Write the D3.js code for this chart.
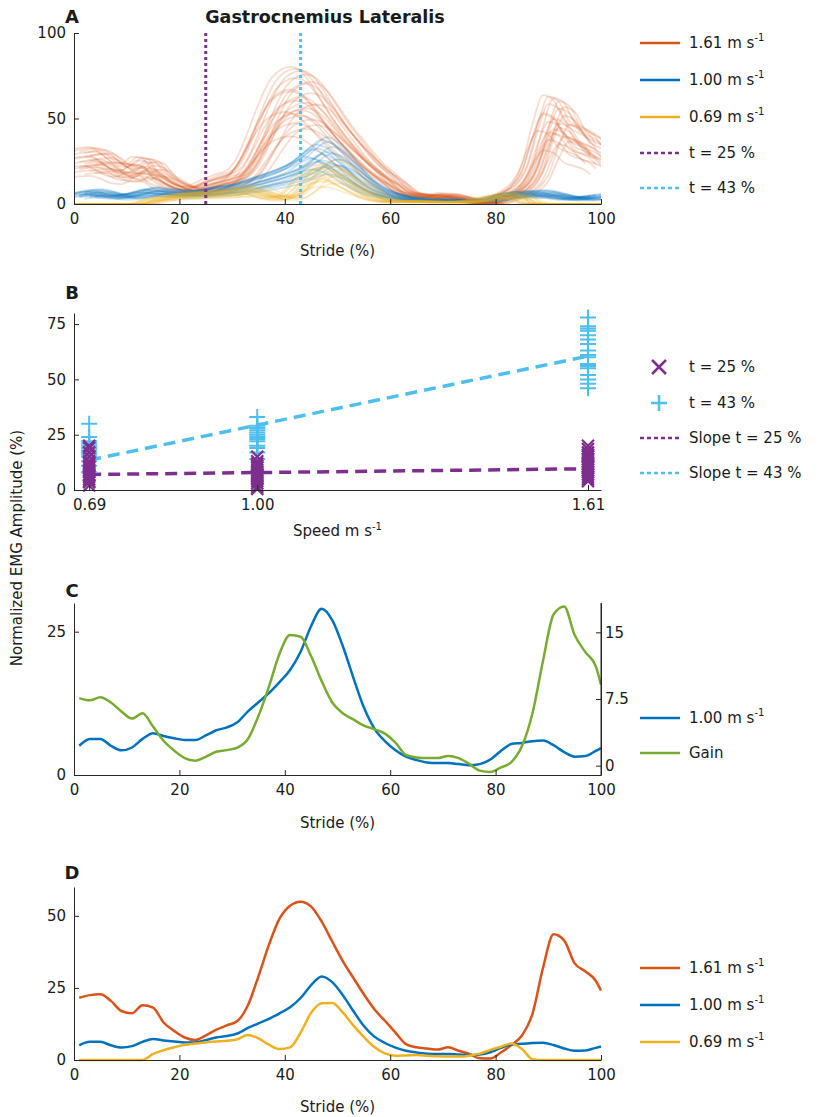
<!DOCTYPE html>
<html>
<head>
<meta charset="utf-8">
<script src="https://cdn.jsdelivr.net/npm/d3@7"></script>
<style>
    body { margin: 0; background: #fff; }
    svg text { font-family: "DejaVu Sans", sans-serif; fill: #1a1a1a; }
    .axis path, .axis line { stroke: #262626; stroke-width: 1; }
    .axis text { font-size: 15px; fill: #1a1a1a; font-family: "DejaVu Sans", sans-serif; }
</style>
</head>
<body>
<svg id="chart" width="819" height="1117"></svg>
<script>
// Stride grid (%) used by all mean curves
const stride = [1, 3, 5, 7, 9, 11, 13, 15, 17, 19, 21, 23, 25, 27, 29, 31, 33, 35, 37, 39, 41, 43, 45, 47, 49,
    51, 53, 55, 57, 59, 61, 63, 65, 67, 69, 71, 73, 75, 77, 79, 81, 83, 85, 87, 89, 91, 93, 95, 97, 99, 100];

// Mean EMG per speed (% of max)
const emg161 = [21.6, 22.5, 22.8, 20.5, 17.0, 16.2, 19.0, 18.2, 13.0, 10.1, 7.8, 6.9, 8.5, 10.5, 12.0, 13.5, 19.0,
    29.0, 40.0, 49.0, 53.5, 54.9, 53.2, 48.0, 41.1, 34.3, 28.5, 22.8, 17.6, 13.6, 9.5, 5.5, 4.4, 4.0, 3.6, 4.4,
    3.2, 2.1, 0.6, 0.5, 2.6, 5.2, 8.5, 16.0, 32.0, 43.6, 41.5, 33.5, 30.8, 27.5, 24.1];
const emg100 = [5.1, 6.3, 6.3, 5.1, 4.3, 4.8, 6.3, 7.3, 6.8, 6.4, 6.1, 6.1, 6.9, 7.8, 8.3, 9.2, 11.1, 12.7, 14.3,
    16.2, 18.3, 21.5, 26.0, 29.0, 27.0, 22.5, 17.0, 11.8, 8.1, 5.9, 4.3, 3.2, 2.6, 2.2, 2.1, 2.1, 1.9, 1.7, 1.9,
    2.7, 4.2, 5.4, 5.6, 5.9, 6.0, 5.2, 4.0, 3.2, 3.3, 4.2, 4.7];
const emg069 = [0, 0, 0, 0, 0, 0, 0, 2.1, 3.4, 4.4, 5.3, 5.7, 6.1, 6.4, 6.7, 7.2, 8.7, 7.5, 5.3, 3.8, 4.4, 9.5,
    16.4, 19.7, 19.8, 16.5, 12.0, 8.0, 4.5, 2.3, 1.5, 1.6, 1.7, 1.5, 1.3, 1.2, 1.2, 1.5, 2.2, 3.5, 4.6, 5.7, 3.8,
    0.3, 0, 0, 0, 0, 0, 0, 0];
const gain = [7.6, 7.35, 7.7, 7.1, 6.1, 5.3, 5.9, 4.4, 2.8, 1.7, 0.85, 0.56, 1.0, 1.56, 1.75, 2.04, 3.0, 5.6, 8.9,
    12.6, 14.7, 14.5, 12.3, 9.5, 7.1, 5.9, 5.2, 4.5, 4.1, 3.6, 2.6, 1.2, 0.93, 0.85, 0.85, 1.1, 0.85, 0.2, -0.56,
    -0.7, -0.2, 0.4, 2.2, 5.9, 11.8, 17.0, 17.9, 14.7, 12.8, 11.2, 9.1];

// Individual strides in panel A: amplitude factor and timing offset (%) per stride
const trialScale161 = [0.72, 0.8, 0.86, 0.9, 0.94, 0.98, 1.02, 1.06, 1.1, 1.14, 1.18, 1.22, 1.28, 1.34, 1.42, 1.46, 0.84, 0.96, 1.08, 1.2, 1.3, 1.0, 1.38, 1.44];
const trialShift161 = [-2, 1, -1, 2, 0, -3, 1, 3, -1, 0, 2, -2, 1, -1, 0, -2, 3, -1, 1, -2, 2, 0, 1, -1];
const trialScale100 = [0.6, 0.7, 0.75, 0.8, 0.85, 0.9, 0.95, 1.0, 1.05, 1.1, 1.15, 1.2, 1.3, 1.35, 0.78, 0.92, 1.02, 1.12, 0.88, 1.25];
const trialShift100 = [1, -2, 0, 2, -1, 3, -3, 0, 1, -2, 2, -1, 0, 1, 3, -2, 2, -1, 0, 1];
const trialScale069 = [0.5, 0.6, 0.7, 0.75, 0.8, 0.85, 0.9, 0.95, 1.0, 1.05, 1.1, 1.15, 1.2, 1.3, 0.65, 0.88, 1.02, 1.12];
const trialShift069 = [-1, 2, 0, -2, 1, 3, -3, 0, 2, -1, 1, -2, 0, 2, -1, 1, -2, 0];

const markerT25 = 25;
const markerT43 = 43;

// Panel B: amplitude at t = 25 % and t = 43 % per speed
const speeds = [0.69, 1.00, 1.61];
const ampT25 = [
    [2, 3.5, 4, 5, 6, 6.5, 7, 8, 9, 10, 11, 12, 13, 15, 17, 19, 20],
    [0.5, 1.5, 3, 4, 5, 5.5, 6.5, 7, 8, 9, 10, 11, 12, 13, 15],
    [4, 5, 6, 7, 8, 9, 10, 10.5, 11, 12, 13, 14, 15, 16, 17, 18.5, 20]
];
const ampT43 = [
    [8, 11, 13, 15, 16, 17, 18, 19, 20, 21, 22, 24, 30],
    [14, 17, 19, 20, 22, 23, 24, 25, 26, 27, 28, 29, 33],
    [46, 48, 50, 52, 55, 56, 57, 60, 61, 63, 66, 68, 70, 72, 73, 74, 78]
];
const fitSpeeds = [0.69, 1.61];
const fitT25 = [7.0, 9.6];
const fitT43 = [13.5, 60.5];

const strideTicks = [0, 20, 40, 60, 80, 100];

const col = {
    r161: '#D95319', b100: '#0072BD', y069: '#EDB120',
    purple: '#7E2F8E', cyan: '#4DBEEE', green: '#77AC30'
};

const svg = d3.select('#chart');
const left = 74, right = 601;

function axes(g, x, y, bottom, xTicks, yTicks, xFmt) {
    g.append('g').attr('class', 'axis')
        .attr('transform', `translate(0,${bottom})`)
        .call(d3.axisBottom(x).tickValues(xTicks).tickSizeInner(-5).tickSizeOuter(0).tickPadding(9).tickFormat(xFmt || d3.format('d')));
    g.append('g').attr('class', 'axis')
        .attr('transform', `translate(${left},0)`)
        .call(d3.axisLeft(y).tickValues(yTicks).tickSizeInner(-5).tickSizeOuter(0).tickPadding(8).tickFormat(d3.format('d')));
}

function panelLetter(letter, y) {
    svg.append('text').attr('x', 72).attr('y', y).attr('text-anchor', 'middle')
        .attr('font-size', 18).attr('font-weight', 'bold').text(letter);
}

function xLabel(txt, y, sup) {
    const t = svg.append('text').attr('x', (left + right) / 2).attr('y', y)
        .attr('text-anchor', 'middle').attr('font-size', 15).text(txt);
    if (sup) t.append('tspan').attr('font-size', 10).attr('dy', -6).text('-1');
}

// legend row helper
function legendText(y, txt, sup) {
    const t = svg.append('text').attr('x', 689).attr('y', y).attr('dy', '0.35em')
        .attr('font-size', 15).text(txt);
    if (sup) t.append('tspan').attr('font-size', 10).attr('dy', -7).text('-1');
}
function legendLine(y, color, dash) {
    svg.append('line').attr('x1', 640).attr('x2', 680).attr('y1', y).attr('y2', y)
        .attr('stroke', color).attr('stroke-width', 2.5)
        .attr('stroke-dasharray', dash || null);
}

const pts = vals => vals.map((v, i) => ({ x: stride[i], y: v }));

// ---------------- Panel A ----------------
const aTop = 33, aBottom = 204;
const xA = d3.scaleLinear().domain([0, 100]).range([left, right]);
const yA = d3.scaleLinear().domain([0, 100]).range([aBottom, aTop]);

svg.append('defs').append('clipPath').attr('id', 'clipA')
    .append('rect').attr('x', left).attr('y', aTop - 2).attr('width', right - left).attr('height', aBottom - aTop + 2);

const gA = svg.append('g');
const trialsA = gA.append('g').attr('clip-path', 'url(#clipA)');

function drawTrials(mean, scales, shifts, color) {
    scales.forEach((s, i) => {
        const line = d3.line()
            .x(d => xA(d.x + shifts[i]))
            .y(d => yA(d.y * s))
            .curve(d3.curveMonotoneX);
        trialsA.append('path').datum(pts(mean))
            .attr('fill', 'none').attr('stroke', color)
            .attr('stroke-width', 1.8).attr('stroke-opacity', 0.2)
            .attr('d', line);
    });
}
drawTrials(emg161, trialScale161, trialShift161, col.r161);
drawTrials(emg100, trialScale100, trialShift100, col.b100);
drawTrials(emg069, trialScale069, trialShift069, col.y069);

[[markerT25, col.purple], [markerT43, col.cyan]].forEach(([t, c]) => {
    gA.append('line').attr('x1', xA(t)).attr('x2', xA(t)).attr('y1', yA(100)).attr('y2', yA(0))
        .attr('stroke', c).attr('stroke-width', 3).attr('stroke-dasharray', '3,3');
});
axes(gA, xA, yA, aBottom, strideTicks, [0, 50, 100]);

panelLetter('A', 23);
svg.append('text').attr('x', 325).attr('y', 23).attr('text-anchor', 'middle')
    .attr('font-size', 17.5).attr('font-weight', 'bold').text('Gastrocnemius Lateralis');
xLabel('Stride (%)', 256);

legendLine(43, col.r161); legendText(43, '1.61 m s', true);
legendLine(80, col.b100); legendText(80, '1.00 m s', true);
legendLine(117, col.y069); legendText(117, '0.69 m s', true);
legendLine(153, col.purple, '4,3'); legendText(153, 't = 25 %');
legendLine(188, col.cyan, '4,3'); legendText(188, 't = 43 %');

// ---------------- Panel B ----------------
const bTop = 313, bBottom = 490;
const xB = d3.scaleLinear().domain([0.662, 1.634]).range([left, right]);
const yB = d3.scaleLinear().domain([0, 80]).range([bBottom, bTop]);
const gB = svg.append('g');

const fitLine = d3.line().x(d => xB(d.x)).y(d => yB(d.y));
[[fitT25, col.purple], [fitT43, col.cyan]].forEach(([vals, c]) => {
    gB.append('path').datum(fitSpeeds.map((s, i) => ({ x: s, y: vals[i] })))
        .attr('fill', 'none').attr('stroke', c).attr('stroke-width', 3.5)
        .attr('stroke-dasharray', '12,7').attr('d', fitLine);
});

function crossPath(cx, cy, r) {
    return `M${cx - r},${cy - r}L${cx + r},${cy + r}M${cx - r},${cy + r}L${cx + r},${cy - r}`;
}
function plusPath(cx, cy, r) {
    return `M${cx - r},${cy}L${cx + r},${cy}M${cx},${cy - r}L${cx},${cy + r}`;
}
speeds.forEach((s, i) => {
    ampT43[i].forEach(v => {
        gB.append('path').attr('d', plusPath(xB(s), yB(v), 8))
            .attr('stroke', col.cyan).attr('stroke-width', 2).attr('fill', 'none');
    });
    ampT25[i].forEach(v => {
        gB.append('path').attr('d', crossPath(xB(s), yB(v), 6))
            .attr('stroke', col.purple).attr('stroke-width', 2.2).attr('fill', 'none');
    });
});
axes(gB, xB, yB, bBottom, speeds, [0, 25, 50, 75], d3.format('.2f'));
panelLetter('B', 299);
xLabel('Speed m s', 536, true);

svg.append('path').attr('d', crossPath(659, 367, 7)).attr('stroke', col.purple).attr('stroke-width', 2.5).attr('fill', 'none');
legendText(367, 't = 25 %');
svg.append('path').attr('d', plusPath(659, 403, 8)).attr('stroke', col.cyan).attr('stroke-width', 2.5).attr('fill', 'none');
legendText(403, 't = 43 %');
legendLine(438, col.purple, '4,3'); legendText(438, 'Slope t = 25 %');
legendLine(473, col.cyan, '4,3'); legendText(473, 'Slope t = 43 %');

// shared y label
svg.append('text').attr('transform', `translate(22,548) rotate(-90)`)
    .attr('text-anchor', 'middle').attr('font-size', 15).text('Normalized EMG Amplitude (%)');

// ---------------- Panel C ----------------
const cTop = 603, cBottom = 775;
const xC = d3.scaleLinear().domain([0, 100]).range([left, right]);
const yC = d3.scaleLinear().domain([0, 30]).range([cBottom, cTop]);
const yC2 = d3.scaleLinear().domain([-1.05, 18.3]).range([cBottom, cTop]);
const gC = svg.append('g');

gC.append('path').datum(pts(emg100)).attr('fill', 'none').attr('stroke', col.b100).attr('stroke-width', 2.5)
    .attr('d', d3.line().x(d => xC(d.x)).y(d => yC(d.y)).curve(d3.curveMonotoneX));
gC.append('path').datum(pts(gain)).attr('fill', 'none').attr('stroke', col.green).attr('stroke-width', 2.5)
    .attr('d', d3.line().x(d => xC(d.x)).y(d => yC2(d.y)).curve(d3.curveMonotoneX));

axes(gC, xC, yC, cBottom, strideTicks, [0, 25]);
gC.append('g').attr('class', 'axis').attr('transform', `translate(${right},0)`)
    .call(d3.axisRight(yC2).tickValues([0, 7.5, 15]).tickSizeInner(-5).tickSizeOuter(0).tickPadding(4).tickFormat(d3.format('')));
gC.append('line').attr('class', 'axis').attr('x1', right).attr('x2', right).attr('y1', cTop).attr('y2', cBottom)
    .attr('stroke', '#262626');

panelLetter('C', 597);
xLabel('Stride (%)', 828);
legendLine(718, col.b100); legendText(718, '1.00 m s', true);
legendLine(753, col.green); legendText(753, 'Gain');

// ---------------- Panel D ----------------
const dTop = 887, dBottom = 1060;
const xD = d3.scaleLinear().domain([0, 100]).range([left, right]);
const yD = d3.scaleLinear().domain([0, 60]).range([dBottom, dTop]);
const gD = svg.append('g');
const lineD = d3.line().x(d => xD(d.x)).y(d => yD(d.y)).curve(d3.curveMonotoneX);
[[emg161, col.r161], [emg100, col.b100], [emg069, col.y069]].forEach(([vals, c]) => {
    gD.append('path').datum(pts(vals)).attr('fill', 'none').attr('stroke', c).attr('stroke-width', 2.5).attr('d', lineD);
});
axes(gD, xD, yD, dBottom, strideTicks, [0, 25, 50]);

panelLetter('D', 879);
xLabel('Stride (%)', 1112);
legendLine(968, col.r161); legendText(968, '1.61 m s', true);
legendLine(1005, col.b100); legendText(1005, '1.00 m s', true);
legendLine(1042, col.y069); legendText(1042, '0.69 m s', true);
</script>
</body>
</html>
